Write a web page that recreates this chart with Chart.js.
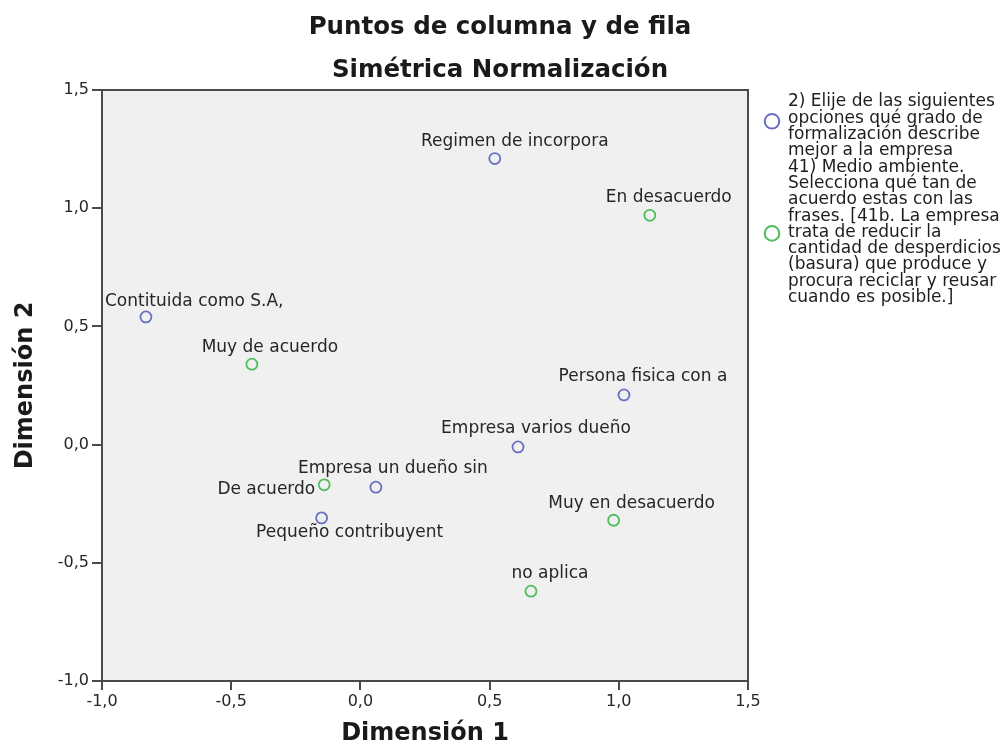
<!DOCTYPE html>
<html>
<head>
<meta charset="utf-8">
<script src="https://cdn.jsdelivr.net/npm/chart.js@4.4.0/dist/chart.umd.min.js"></script>
<style>
  html, body { margin: 0; padding: 0; background: #fff; }
  #wrap { width: 1008px; height: 748px; }
</style>
</head>
<body>
<div id="wrap"><canvas id="myChart"></canvas></div>
<script>
// row points (formalizacion de la empresa)
let rowLabels = ['Regimen de incorpora', 'Contituida como S.A,', 'Persona fisica con a',
  'Empresa varios dueño', 'Empresa un dueño sin', 'Pequeño contribuyent'];
let rowX = [0.52, -0.83, 1.02, 0.61, 0.06, -0.15];
let rowY = [1.21, 0.54, 0.21, -0.01, -0.18, -0.31];

// column points (41b medio ambiente)
let colLabels = ['En desacuerdo', 'Muy de acuerdo', 'De acuerdo', 'Muy en desacuerdo', 'no aplica'];
let colX = [1.12, -0.42, -0.14, 0.98, 0.66];
let colY = [0.97, 0.34, -0.17, -0.32, -0.62];

let tickValues = [-1.0, -0.5, 0.0, 0.5, 1.0, 1.5];

let titleLines = ['Puntos de columna y de fila', 'Simétrica Normalización'];

let legendRow = ['2) Elije de las siguientes', 'opciones qué grado de', 'formalización describe',
  'mejor a la empresa'];
let legendCol = ['41) Medio ambiente.', 'Selecciona qué tan de', 'acuerdo estas con las',
  'frases. [41b. La empresa', 'trata de reducir la', 'cantidad de desperdicios',
  '(basura) que produce y', 'procura reciclar y reusar', 'cuando es posible.]'];

// where each label sits relative to its marker [dx, dy, align]
let rowPlace = [[20, -17, 'center'], [-41, -15, 'left'], [19, -18, 'center'],
  [18, -18, 'center'], [17, -19, 'center'], [28, 15, 'center']];
let colPlace = [[19, -18, 'center'], [18, -17, 'center'], [-9, 5, 'right'],
  [18, -17, 'center'], [19, -18, 'center']];

const blue = 'rgb(104,112,196)';
const green = 'rgb(78,190,92)';
const FONT = "'DejaVu Sans', sans-serif";

const comma = v => (Math.abs(v) < 1e-9 ? 0 : v).toFixed(1).replace('.', ',');

let plotBox = {
  id: 'plotBox',
  beforeDatasetsDraw(chart) {
    let a = chart.chartArea, c = chart.ctx;
    c.save();
    c.fillStyle = '#f0f0f0';
    c.fillRect(a.left, a.top, a.right - a.left, a.bottom - a.top);
    c.restore();
  },
  afterDatasetsDraw(chart) {
    let a = chart.chartArea, c = chart.ctx;
    c.save();
    c.strokeStyle = '#4a4a4a';
    c.lineWidth = 2;
    c.strokeRect(a.left, a.top, a.right - a.left, a.bottom - a.top);

    // title, centred on the whole figure
    c.fillStyle = '#1a1a1a';
    c.font = 'bold 24.5px ' + FONT;
    c.textAlign = 'center';
    c.textBaseline = 'alphabetic';
    c.fillText(titleLines[0], 500, 34);
    c.fillText(titleLines[1], 500, 77);

    // point labels
    c.font = '17px ' + FONT;
    c.fillStyle = '#262626';
    c.textBaseline = 'middle';
    let xs = chart.scales.x, ys = chart.scales.y;
    let put = (labels, X, Y, place) => {
      labels.forEach((t, i) => {
        let px = xs.getPixelForValue(X[i]), py = ys.getPixelForValue(Y[i]);
        c.textAlign = place[i][2];
        c.fillText(t, px + place[i][0], py + place[i][1]);
      });
    };
    put(rowLabels, rowX, rowY, rowPlace);
    put(colLabels, colX, colY, colPlace);

    // legend on the right
    let lx = a.right + 40, lh = 16.3, top = 102;
    c.font = '17px ' + FONT;
    c.fillStyle = '#1e1e1e';
    c.textAlign = 'left';
    let all = legendRow.concat(legendCol);
    all.forEach((t, i) => c.fillText(t, lx, top + i * lh));
    c.lineWidth = 2;
    c.strokeStyle = blue;
    c.beginPath(); c.arc(a.right + 24, top + 1 * lh + 3, 7.3, 0, Math.PI * 2); c.stroke();
    c.strokeStyle = green;
    c.beginPath(); c.arc(a.right + 24, top + (legendRow.length + 4) * lh + 1, 7.3, 0, Math.PI * 2); c.stroke();
    c.restore();
  }
};

let ctx = document.getElementById('myChart').getContext('2d');
let myChart = new Chart(ctx, {
  type: 'scatter',
  data: {
    datasets: [{
      label: 'fila',
      data: rowX.map((x, i) => ({ x: x, y: rowY[i] })),
      borderColor: blue,
      backgroundColor: 'rgba(0,0,0,0)',
      pointRadius: 5.5,
      pointBorderWidth: 1.8
    }, {
      label: 'columna',
      data: colX.map((x, i) => ({ x: x, y: colY[i] })),
      borderColor: green,
      backgroundColor: 'rgba(0,0,0,0)',
      pointRadius: 5.5,
      pointBorderWidth: 1.8
    }]
  },
  options: {
    responsive: true,
    maintainAspectRatio: false,
    animation: false,
    layout: { padding: { left: 0, right: 260, top: 90, bottom: 0 } },
    plugins: {
      legend: { display: false },
      tooltip: { enabled: false },
      title: { display: false }
    },
    scales: {
      x: {
        type: 'linear', min: -1, max: 1.5,
        afterBuildTicks: s => { s.ticks = tickValues.map(v => ({ value: v })); },
        afterFit: s => { s.height = 67; },
        border: { display: false },
        grid: { drawOnChartArea: false, drawTicks: true, tickLength: 9, color: '#4a4a4a', lineWidth: 2 },
        ticks: { callback: v => comma(v), color: '#262626', font: { family: FONT, size: 16 }, padding: 2, maxRotation: 0 },
        title: { display: true, text: 'Dimensión 1', color: '#1a1a1a',
          font: { family: FONT, size: 24, weight: 'bold', lineHeight: 1.2 }, padding: { top: 0, bottom: 0 } }
      },
      y: {
        type: 'linear', min: -1, max: 1.5,
        afterBuildTicks: s => { s.ticks = tickValues.map(v => ({ value: v })); },
        afterFit: s => { s.width = 102; },
        border: { display: false },
        grid: { drawOnChartArea: false, drawTicks: true, tickLength: 10, color: '#4a4a4a', lineWidth: 2 },
        ticks: { callback: v => comma(v), color: '#262626', font: { family: FONT, size: 16 }, padding: 3 },
        title: { display: true, text: 'Dimensión 2', color: '#1a1a1a',
          font: { family: FONT, size: 24, weight: 'bold', lineHeight: 1.2 }, padding: { top: 11, bottom: 0 } }
      }
    }
  },
  plugins: [plotBox]
});
</script>
</body>
</html>
